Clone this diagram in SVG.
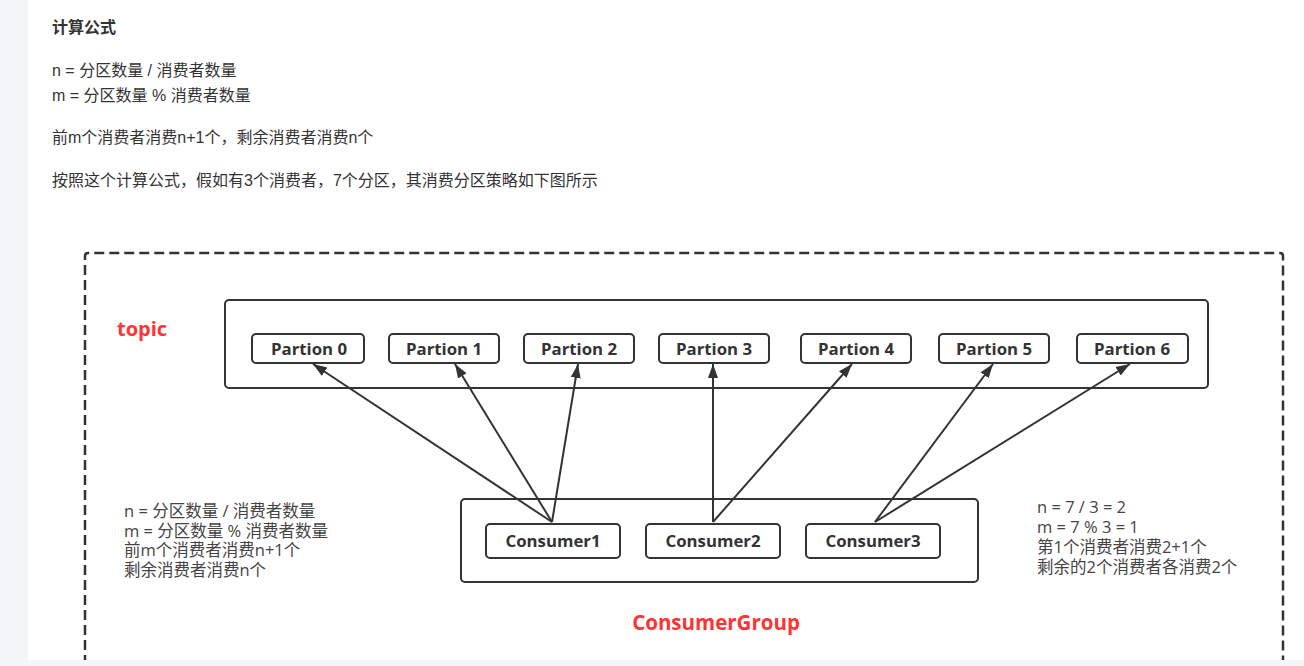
<svg xmlns="http://www.w3.org/2000/svg" width="1304" height="666" viewBox="0 0 1304 666">
<style>
.txt{font-family:"Liberation Sans","Noto Sans CJK SC",sans-serif;fill:#333;font-size:16px}
.lbl{font-family:"Open Sans","Noto Sans CJK SC",sans-serif;font-weight:bold;fill:#333;font-size:16.8px;text-anchor:middle}
.note{font-family:"Open Sans","Noto Sans CJK SC",sans-serif;fill:#444;font-size:16.5px}
.red{font-family:"Open Sans","Noto Sans CJK SC",sans-serif;font-weight:bold;fill:#ff3333}
.box{fill:#fff;stroke:#333;stroke-width:2}
.conn{stroke:#333;stroke-width:2;fill:none;marker-end:url(#arr)}
</style>
<defs>
<marker id="arr" markerUnits="userSpaceOnUse" markerWidth="16" markerHeight="12" refX="14" refY="5" orient="auto" viewBox="0 0 16 10">
<path d="M0,0 L14,5 L0,10 Z" fill="#333"/>
</marker>
</defs>
<rect x="0" y="0" width="1304" height="666" fill="#fff"/>
<rect x="0" y="0" width="28" height="666" fill="#f4f5f7"/>
<g id="intro">
<text class="txt" x="52" y="33" style="font-weight:bold">计算公式</text>
<text class="txt" x="52" y="76">n = 分区数量 / 消费者数量</text>
<text class="txt" x="52" y="101">m = 分区数量 % 消费者数量</text>
<text class="txt" x="52" y="143">前m个消费者消费n+1个，剩余消费者消费n个</text>
<text class="txt" x="52" y="186">按照这个计算公式，假如有3个消费者，7个分区，其消费分区策略如下图所示</text>
</g>
<g id="outer">
<path d="M85,680 L85,256 Q85,253 88,253 L1280,253 Q1283,253 1283,256 L1283,680" fill="none" stroke="#333" stroke-width="2.5" stroke-dasharray="10,5"/>
</g>
<g id="topic">
<rect class="box" x="225" y="300" width="983" height="88" rx="4"/>
<text class="red" x="117" y="336" style="font-size:20px">topic</text>
</g>
<g id="p0"><rect class="box" x="252" y="334" width="112" height="29" rx="4"/><text class="lbl" x="309" y="355">Partion 0</text></g>
<g id="p1"><rect class="box" x="389" y="334" width="110" height="29" rx="4"/><text class="lbl" x="444" y="355">Partion 1</text></g>
<g id="p2"><rect class="box" x="524" y="334" width="110" height="29" rx="4"/><text class="lbl" x="579" y="355">Partion 2</text></g>
<g id="p3"><rect class="box" x="659" y="334" width="110" height="29" rx="4"/><text class="lbl" x="714" y="355">Partion 3</text></g>
<g id="p4"><rect class="box" x="801" y="334" width="110" height="29" rx="4"/><text class="lbl" x="856" y="355">Partion 4</text></g>
<g id="p5"><rect class="box" x="939" y="334" width="110" height="29" rx="4"/><text class="lbl" x="994" y="355">Partion 5</text></g>
<g id="p6"><rect class="box" x="1077" y="334" width="111" height="29" rx="4"/><text class="lbl" x="1132" y="355">Partion 6</text></g>
<g id="consumergroup">
<rect class="box" x="461" y="499" width="517" height="83" rx="4"/>
<text class="red" x="716" y="630" style="font-size:20.5px;text-anchor:middle">ConsumerGroup</text>
</g>
<g id="c1"><rect class="box" x="486" y="524" width="134" height="34" rx="4"/><text class="lbl" x="553" y="547">Consumer1</text></g>
<g id="c2"><rect class="box" x="646" y="524" width="134" height="34" rx="4"/><text class="lbl" x="713" y="547">Consumer2</text></g>
<g id="c3"><rect class="box" x="806" y="524" width="134" height="34" rx="4"/><text class="lbl" x="873" y="547">Consumer3</text></g>
<g id="connectors">
<line class="conn" x1="552" y1="522" x2="313" y2="364"/>
<line class="conn" x1="552" y1="522" x2="455" y2="364"/>
<line class="conn" x1="552" y1="522" x2="578" y2="364"/>
<line class="conn" x1="713" y1="522" x2="713" y2="364"/>
<line class="conn" x1="713" y1="522" x2="852" y2="364"/>
<line class="conn" x1="875" y1="522" x2="993" y2="364"/>
<line class="conn" x1="875" y1="522" x2="1130" y2="364"/>
</g>
<g id="note-left">
<text class="note" x="124" y="517">n = 分区数量 / 消费者数量</text>
<text class="note" x="124" y="537">m = 分区数量 % 消费者数量</text>
<text class="note" x="124" y="556">前m个消费者消费n+1个</text>
<text class="note" x="124" y="576">剩余消费者消费n个</text>
</g>
<g id="note-right">
<text class="note" x="1037" y="513">n = 7 / 3 = 2</text>
<text class="note" x="1037" y="533">m = 7 % 3 = 1</text>
<text class="note" x="1037" y="553">第1个消费者消费2+1个</text>
<text class="note" x="1037" y="573">剩余的2个消费者各消费2个</text>
</g>
<rect x="28" y="660" width="1276" height="6" fill="#f4f5f7"/>
</svg>
